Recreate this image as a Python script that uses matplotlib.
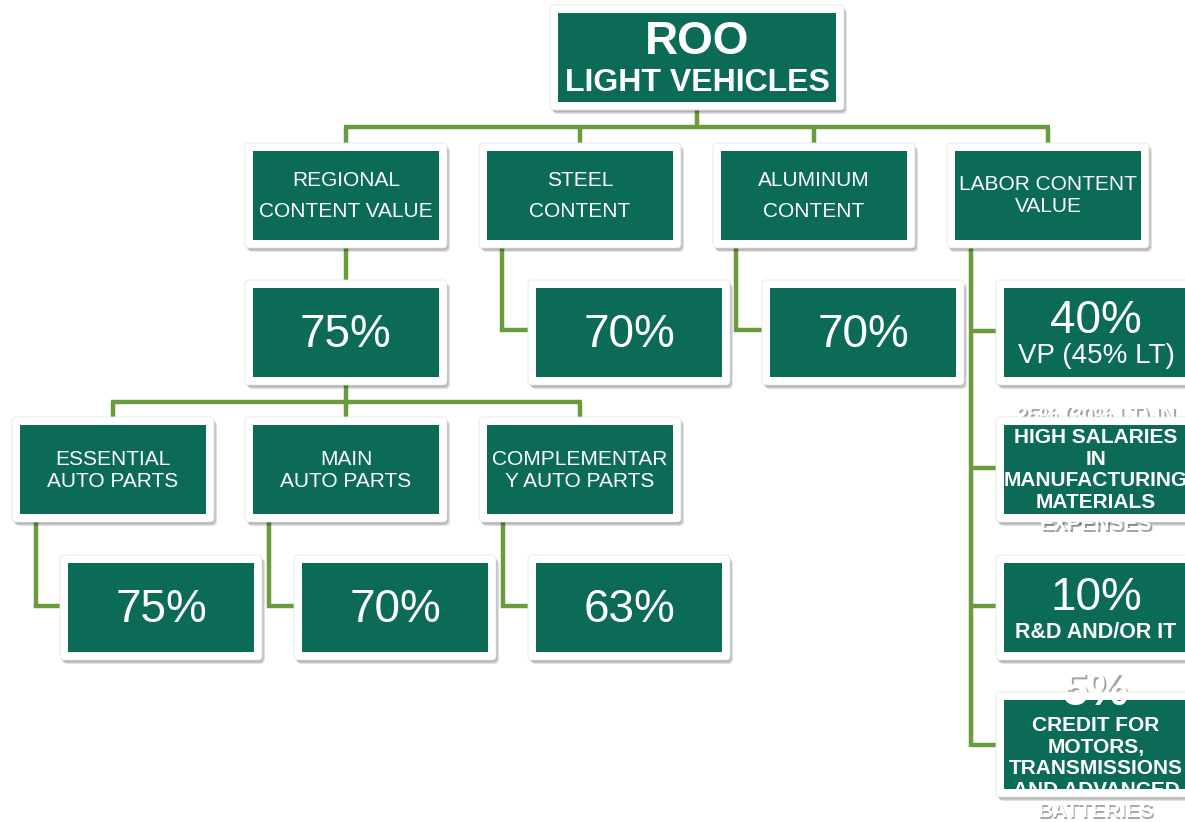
import matplotlib
matplotlib.use("Agg")
import matplotlib.pyplot as plt
from matplotlib.patches import FancyBboxPatch

# ---------------- data ----------------
title_lines = ["ROO", "LIGHT VEHICLES"]
categories = [["REGIONAL", "CONTENT VALUE"], ["STEEL", "CONTENT"],
              ["ALUMINUM", "CONTENT"], ["LABOR CONTENT", "VALUE"]]
category_pcts = ["75%", "70%", "70%"]
rvc_parts = [["ESSENTIAL", "AUTO PARTS"], ["MAIN", "AUTO PARTS"],
             ["COMPLEMENTAR", "Y AUTO PARTS"]]
rvc_part_pcts = ["75%", "70%", "63%"]
labor_pct_main = "40%"
labor_pct_main_sub = "VP (45% LT)"
labor_salaries = ["25% (30% LT) IN", "HIGH SALARIES", "IN", "MANUFACTURING",
                  "MATERIALS", "EXPENSES"]
labor_rd_pct = "10%"
labor_rd_label = "R&D AND/OR IT"
labor_credit_pct = "5%"
labor_credit = ["CREDIT FOR", "MOTORS,", "TRANSMISSIONS", "AND ADVANCED",
                "BATTERIES"]

# ---------------- style ----------------
GREEN = "#0C6B56"
LINE = "#6A9B3C"
FONT = "Liberation Sans"
W, H = 1185, 822

fig = plt.figure(figsize=(W / 100, H / 100), dpi=100)
ax = fig.add_axes([0, 0, 1, 1])
ax.set_xlim(0, W)
ax.set_ylim(H, 0)
ax.axis("off")

BW, BH, BORDER = 186, 89, 8


def box(x0, y0, w=BW, h=BH):
    # soft drop shadow
    for i, a in enumerate([0.10, 0.10, 0.12]):
        off = 1 + i
        ax.add_patch(FancyBboxPatch((x0 - BORDER + off, y0 - BORDER + off + 1),
                                    w + 2 * BORDER, h + 2 * BORDER,
                                    boxstyle="round,pad=0,rounding_size=5",
                                    fc="#000000", ec="none", alpha=a, zorder=2))
    ax.add_patch(FancyBboxPatch((x0 - BORDER, y0 - BORDER), w + 2 * BORDER, h + 2 * BORDER,
                                boxstyle="round,pad=0,rounding_size=4",
                                fc="white", ec="#E6E6E6", lw=0.6, zorder=3))
    ax.add_patch(plt.Rectangle((x0, y0), w, h, fc=GREEN, ec="none", zorder=4))


def txt(x, y, s, size, bold=False, shadow=False):
    kw = dict(ha="center", va="baseline", fontsize=size, family=FONT,
              fontweight="bold" if bold else "normal")
    if shadow:
        ax.text(x + 1.5, y + 1.5, s, color="#7F7F7F", alpha=0.7, zorder=1, **kw)
        ax.text(x, y, s, color="white", zorder=6, **kw)
    else:
        ax.text(x, y, s, color="white", zorder=6, **kw)


def line(xs, ys):
    ax.plot(xs, ys, color=LINE, lw=3.2, solid_capstyle="butt",
            solid_joinstyle="miter", zorder=1.5)


# ---------------- connectors ----------------
l2_x = [253, 487, 721, 955]
l2_c = [x + BW / 2 for x in l2_x]
line([697, 697], [108, 127])
line([l2_c[0] - 1.6, l2_c[-1] + 1.6], [127, 127])
for c in l2_c:
    line([c, c], [127, 145])
# regional -> 75%
line([l2_c[0], l2_c[0]], [245, 282])
# 75% -> parts
l4_x = [20, 253, 487]
l4_c = [x + BW / 2 for x in l4_x]
line([l2_c[0], l2_c[0]], [383, 402])
line([l4_c[0] - 1.6, l4_c[-1] + 1.6], [402, 402])
for c in l4_c:
    line([c, c], [402, 420])
# steel / aluminum elbows
for x in [l2_x[1], l2_x[2]]:
    line([x + 15, x + 15, x + 45], [245, 330, 330])
# parts elbows
for x in l4_x:
    line([x + 16, x + 16, x + 45], [520, 606, 606])
# labor spine
lx = l2_x[3] + 16
line([lx, lx], [245, 745 + 1.6])
for yb in [331, 468, 606, 745]:
    line([lx, 1000], [yb, yb])

# ---------------- boxes ----------------
box(558, 13, w=278)
txt(697, 54, title_lines[0], 33, bold=True)
txt(697, 91, title_lines[1], 23, bold=True)

for i, (x, lab) in enumerate(zip(l2_x, categories)):
    box(x, 151)
    c = x + BW / 2
    if i < 3:
        txt(c, 186, lab[0], 15)
        txt(c, 217, lab[1], 15)
    else:
        txt(c, 190, lab[0], 15)
        txt(c, 212, lab[1], 15)

l3_x = [253, 536, 770]
for x, p in zip(l3_x, category_pcts):
    box(x, 288)
    txt(x + BW / 2, 347, p, 33)

for x, lab in zip(l4_x, rvc_parts):
    box(x, 425)
    txt(x + BW / 2, 465, lab[0], 15)
    txt(x + BW / 2, 487, lab[1], 15)

l5_x = [68, 302, 536]
for x, p in zip(l5_x, rvc_part_pcts):
    box(x, 563)
    txt(x + BW / 2, 622, p, 33)

# labor children
lc = 1004 + BW / 2 - 1
box(1004, 288)
txt(lc, 333, labor_pct_main, 33)
txt(lc, 363, labor_pct_main_sub, 20)

box(1004, 425)
for k, s in enumerate(labor_salaries):
    txt(lc, 421 + 21.8 * k, s, 15, bold=True, shadow=True)

box(1004, 563)
txt(lc, 610, labor_rd_pct, 33)
txt(lc, 638, labor_rd_label, 15.5, bold=True)

box(1004, 700)
txt(lc, 705, labor_credit_pct, 33, bold=True, shadow=True)
for k, s in enumerate(labor_credit):
    txt(lc, 731 + 21.6 * k, s, 15, bold=True, shadow=True)

fig.savefig("out.png", dpi=100)
